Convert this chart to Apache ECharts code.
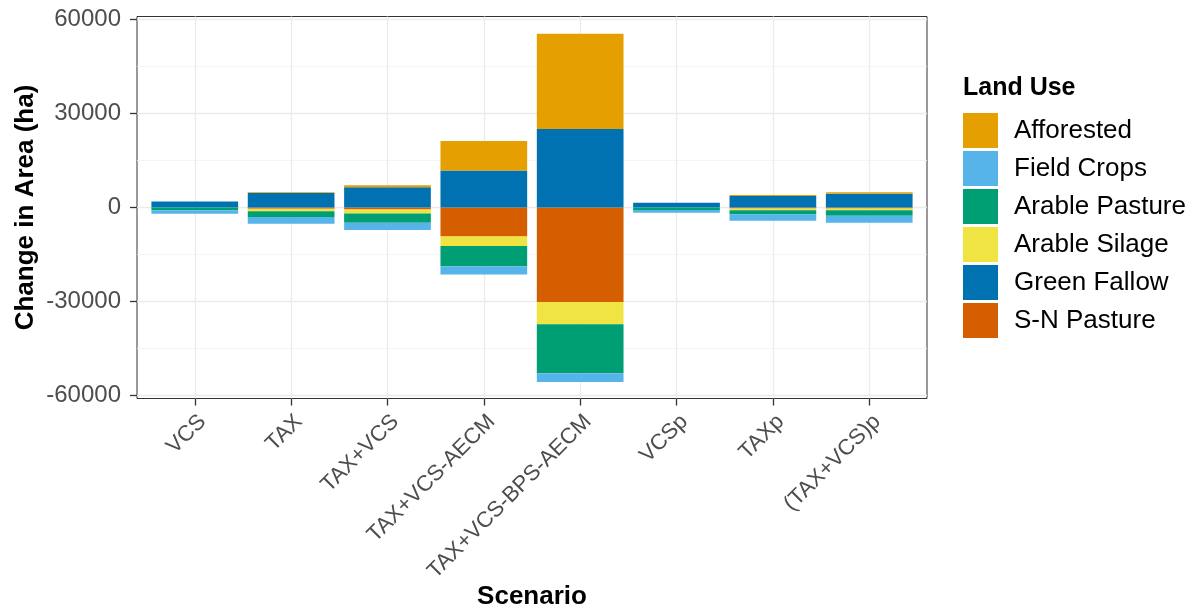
<!DOCTYPE html>
<html>
<head>
<meta charset="utf-8">
<script src="https://cdn.jsdelivr.net/npm/echarts@6.0.0/dist/echarts.min.js"></script>
<style>
html,body{margin:0;padding:0;background:#fff;}
#chart{width:1195px;height:610px;}
</style>
</head>
<body>
<div id="chart"></div>
<script>
const scenarios = ['VCS','TAX','TAX+VCS','TAX+VCS-AECM','TAX+VCS-BPS-AECM','VCSp','TAXp','(TAX+VCS)p'];
const afforested    = [0, 300, 600, 9400, 30400, 0, 300, 500];
const fieldCrops    = [-1100, -2200, -2300, -2600, -2800, -900, -2000, -2300];
const arablePasture = [-900, -1800, -3000, -6500, -15600, -800, -1300, -1700];
const arableSilage  = [0, -800, -1300, -3050, -7100, 0, -600, -600];
const greenFallow   = [1900, 4600, 6500, 11800, 25100, 1500, 3700, 4400];
const snPasture     = [0, -400, -600, -9250, -30200, 0, -300, -300];
const majorTicks = [-60000, -30000, 0, 30000, 60000];
const minorTicks = [-45000, -15000, 15000, 45000];
const legendOrder = ['Afforested','Field Crops','Arable Pasture','Arable Silage','Green Fallow','S-N Pasture'];

const colors = {
  'Afforested':'#E69F00','Field Crops':'#56B4E9','Arable Pasture':'#009E73',
  'Arable Silage':'#F0E442','Green Fallow':'#0072B2','S-N Pasture':'#D55E00'
};
// stacking order from zero outward
const seriesDefs = [
  ['S-N Pasture', snPasture],
  ['Green Fallow', greenFallow],
  ['Arable Silage', arableSilage],
  ['Arable Pasture', arablePasture],
  ['Field Crops', fieldCrops],
  ['Afforested', afforested]
];
const YMIN = -61000, YMAX = 61000;
const font = 'Liberation Sans, Arial, sans-serif';

const chart = echarts.init(document.getElementById('chart'), null, {renderer:'canvas'});
chart.setOption({
  animation:false,
  backgroundColor:'#ffffff',
  textStyle:{fontFamily:font},
  title:{text:'Land Use', left:963, top:76, padding:0,
    textStyle:{fontFamily:font, fontSize:25, fontWeight:'bold', color:'#000'}},
  legend:{
    data:legendOrder, orient:'vertical', left:963, top:113, padding:0, itemWidth:35, itemHeight:35,
    itemGap:3, icon:'rect', selectedMode:false,
    textStyle:{fontFamily:font, fontSize:26, color:'#000', padding:[0,0,0,11]}
  },
  grid:[
    {left:137, top:16.5, width:790, height:382, show:true, borderColor:'#333333', borderWidth:1,
      backgroundColor:'#fff', containLabel:false, outerBoundsMode:'none'},
    {left:146.6, top:16.5, width:770.8, height:382, containLabel:false, outerBoundsMode:'none'}
  ],
  xAxis:[
    {type:'value', gridIndex:0, min:0, max:1, show:false},
    {type:'category', gridIndex:1, data:scenarios,
      axisLine:{show:false, onZero:false},
      axisTick:{show:true, alignWithLabel:true, length:7, lineStyle:{color:'#333333', width:1.3}},
      axisLabel:{interval:0, rotate:45, margin:12, align:'right', verticalAlign:'top',
        fontFamily:font, fontSize:22, color:'#4d4d4d'},
      splitLine:{show:true, alignWithLabel:true, lineStyle:{color:'#ebebeb', width:1.3}},
      name:'Scenario', nameLocation:'middle', nameGap:185, nameMoveOverlap:false,
      nameTextStyle:{fontFamily:font, fontSize:26, fontWeight:'bold', color:'#000'}
    }
  ],
  yAxis:[
    {type:'value', gridIndex:0, min:YMIN, max:YMAX,
      axisLine:{show:false},
      axisTick:{show:true, length:7, customValues:majorTicks, lineStyle:{color:'#333333', width:1.3}},
      axisLabel:{customValues:majorTicks, margin:16, fontFamily:font, fontSize:24, color:'#4d4d4d',
        formatter:(v)=>String(v)},
      splitLine:{show:true, lineStyle:{color:'#ebebeb', width:1.3}},
      name:'Change in Area (ha)', nameLocation:'middle', nameGap:98, nameMoveOverlap:false,
      nameTextStyle:{fontFamily:font, fontSize:26, fontWeight:'bold', color:'#000'}
    },
    {type:'value', gridIndex:0, min:YMIN, max:YMAX,
      axisLine:{show:false},
      axisTick:{show:false, customValues:minorTicks},
      axisLabel:{show:false, customValues:minorTicks},
      splitLine:{show:true, lineStyle:{color:'#f2f2f2', width:0.8}}
    },
    {type:'value', gridIndex:1, min:YMIN, max:YMAX, show:false, splitLine:{show:false}}
  ],
  series: seriesDefs.map(([name, vals]) => ({
    name, type:'bar', xAxisIndex:1, yAxisIndex:2, stack:'total', stackStrategy:'samesign',
    barCategoryGap:'10%', data:vals, itemStyle:{color:colors[name]},
    emphasis:{disabled:true}
  }))
});
</script>
</body>
</html>
